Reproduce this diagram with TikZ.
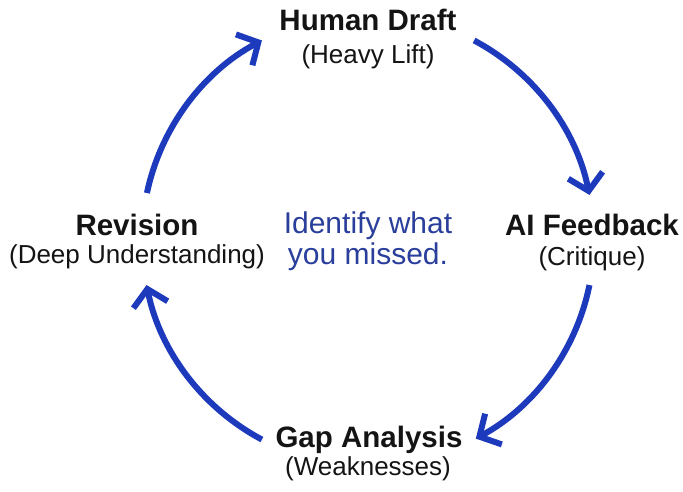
\documentclass[tikz,border=0pt]{standalone}
\usepackage{fontspec}
\setmainfont{Liberation Sans}
\usetikzlibrary{arrows.meta}
\definecolor{arrowblue}{RGB}{30,58,188}
\definecolor{noteblue}{RGB}{42,62,155}
\definecolor{titleblack}{RGB}{20,20,20}
\tikzset{
  flow/.style={draw=arrowblue, line width=6pt,
    -{Straight Barb[length=16pt,width=35pt,line join=miter]}},
  title/.style={anchor=base, inner sep=0pt, text=titleblack,
    font=\fontsize{29.5}{33}\selectfont\bfseries},
  sub/.style={anchor=base, inner sep=0pt, text=titleblack,
    font=\fontsize{26}{30}\selectfont},
  note/.style={anchor=base, inner sep=0pt, text=noteblue,
    font=\fontsize{30}{34}\selectfont}
}
\begin{document}
\begin{tikzpicture}[x=1pt,y=1pt]
\fill[white] (0,0) rectangle (683,-491);
\useasboundingbox (0,0) rectangle (683,-491);
\coordinate (c) at (368,-240);
% Human Draft
\node[title] (hd) at (368,-30) {Human Draft};
\node[sub] (hds) at (368,-63) {(Heavy Lift)};
% AI Feedback
\node[title] (ai) at (592,-235) {AI Feedback};
\node[sub] (ais) at (592,-265) {(Critique)};
% Gap Analysis
\node[title] (ga) at (369,-447) {Gap Analysis};
\node[sub] (gas) at (368,-475) {(Weaknesses)};
% Revision
\node[title] (rv) at (137,-235) {Revision};
\node[sub] (rvs) at (137,-263) {(Deep Understanding)};
% centre note
\node[note] (n1) at (368,-233) {Identify what};
\node[note] (n2) at (368,-264) {you missed.};
% cycle arrows
\draw[flow] ([shift={(62:226pt)}]c) arc[start angle=62, end angle=11.5, radius=226pt];
\draw[flow] ([shift={(-11.5:226pt)}]c) arc[start angle=-11.5, end angle=-61.5, radius=226pt];
\draw[flow] ([shift={(-118:226pt)}]c) arc[start angle=-118, end angle=-168.5, radius=226pt];
\draw[flow] ([shift={(168:226pt)}]c) arc[start angle=168, end angle=118, radius=226pt];
\end{tikzpicture}
\end{document}
